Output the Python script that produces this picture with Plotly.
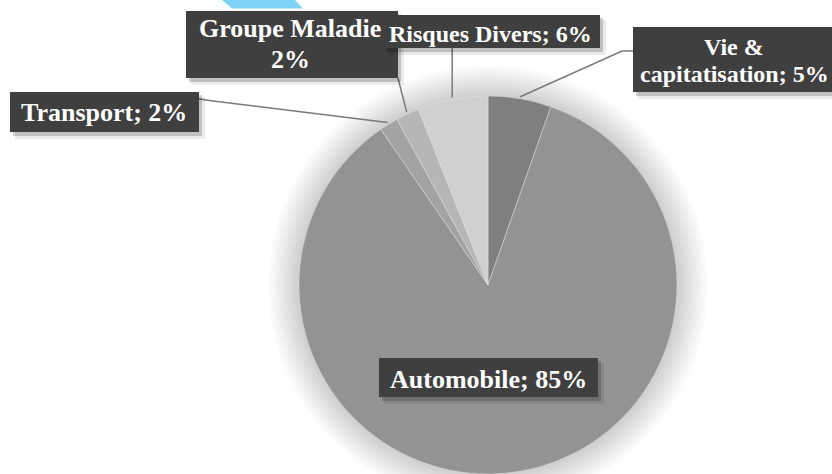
import math
import plotly.graph_objects as go

# ---------------- data ----------------
categories = ["Vie & capitatisation", "Automobile", "Transport", "Groupe Maladie", "Risques Divers"]
values = [5.4, 85.0, 1.6, 2.0, 6.0]
colors = ["#7f7f7f", "#939393", "#a3a3a3", "#b6b6b6", "#d0d0d0"]

# ---------------- layout constants (pixels) ----------------
W, H = 832, 474
cx, cy, R = 488, 285, 189

def px(x):
    return x / W

def py(y):
    return 1 - y / H

# label boxes: x0, y0, x1, y1
boxes = {
    "Vie & capitatisation": (633, 27, 832, 92),
    "Automobile": (379, 358, 598, 397),
    "Transport": (10, 92, 199, 132),
    "Groupe Maladie": (186, 11, 398, 78),
    "Risques Divers": (383, 15, 600, 48),
}
font_sizes = {
    "Vie & capitatisation": 24,
    "Automobile": 26,
    "Transport": 26,
    "Groupe Maladie": 26,
    "Risques Divers": 24,
}
baselines = {
    "Vie & capitatisation": [55, 82],
    "Automobile": [388],
    "Transport": [121.7],
    "Groupe Maladie": [37, 68],
    "Risques Divers": [42],
}
text_cx = {
    "Vie & capitatisation": 734,
    "Automobile": 488,
    "Transport": 104,
    "Groupe Maladie": 290,
    "Risques Divers": 491,
}
leader_pts = {
    "Vie & capitatisation": [(622, 51), (633, 51)],
    "Transport": [(213, 101), (199, 99)],
    "Groupe Maladie": [(398, 78)],
    "Risques Divers": [(None, 48)],
}
draw_order = ["Automobile", "Transport", "Vie & capitatisation", "Groupe Maladie", "Risques Divers"]

total = sum(values)
pcts = {c: round(v / total * 100) for c, v in zip(categories, values)}

def label_lines(name):
    p = pcts[name]
    if name == "Groupe Maladie":
        return [name, f"{p}%"]
    txt = f"{name}; {p}%"
    if "& " in txt:
        return txt.split("& ", 1)[0] + "&", txt.split("& ", 1)[1]
    return [txt]

fig = go.Figure()
fig.add_trace(go.Pie(
    labels=categories,
    values=values,
    sort=False,
    direction="clockwise",
    rotation=0,
    textinfo="none",
    hoverinfo="label+percent",
    marker=dict(colors=colors, line=dict(color="rgba(225,225,225,0.6)", width=0.8)),
    domain=dict(x=[px(cx - R), px(cx + R)], y=[py(cy + R), py(cy - R)]),
    showlegend=False,
))

shapes = []
# soft glow around the pie
for k in range(12):
    rr = R + 2 + k * 2.6
    shapes.append(dict(type="circle", xref="paper", yref="paper",
                       x0=px(cx - rr), x1=px(cx + rr), y0=py(cy + rr), y1=py(cy - rr),
                       fillcolor="rgba(0,0,0,0.014)", line=dict(width=0), layer="below"))

# light blue decorative shape
shapes.append(dict(type="path", xref="paper", yref="paper",
                   path=f"M {px(222)},{py(0)} L {px(295)},{py(0)} L {px(303)},{py(8.5)} L {px(232)},{py(8.5)} Z",
                   fillcolor="#7fd4f6", line=dict(width=0), layer="below"))

# leader lines from slice mid-angles
cum = 0.0
anchors = {}
for c, v in zip(categories, values):
    mid = (cum + v / 2) / total
    th = 2 * math.pi * mid
    anchors[c] = (cx + (R + 2) * math.sin(th), cy - (R + 2) * math.cos(th))
    cum += v

for c, pts in leader_pts.items():
    ax, ay = anchors[c]
    path = f"M {px(ax)},{py(ay)}"
    for (x, y) in pts:
        x = ax if x is None else x
        path += f" L {px(x)},{py(y)}"
    shapes.append(dict(type="path", xref="paper", yref="paper", path=path,
                       line=dict(color="#7a7a7a", width=1.5)))

annotations = []
for c in draw_order:
    x0, y0, x1, y1 = boxes[c]
    # shadow
    shapes.append(dict(type="rect", xref="paper", yref="paper",
                       x0=px(x0 + 5), x1=px(x1 + 6), y0=py(y1 + 7), y1=py(y0 + 5),
                       fillcolor="rgba(0,0,0,0.08)", line=dict(width=0)))
    shapes.append(dict(type="rect", xref="paper", yref="paper",
                       x0=px(x0 + 3), x1=px(x1 + 3), y0=py(y1 + 4), y1=py(y0 + 3),
                       fillcolor="rgba(0,0,0,0.18)", line=dict(width=0)))
    shapes.append(dict(type="rect", xref="paper", yref="paper",
                       x0=px(x0), x1=px(x1), y0=py(y1), y1=py(y0),
                       fillcolor="#3f3f3f", line=dict(width=0)))
    fs = font_sizes[c]
    for line, base in zip(label_lines(c), baselines[c]):
        annotations.append(dict(
            x=px(text_cx[c]), y=py(base - 0.34 * fs), xref="paper", yref="paper",
            text=f"<b>{line}</b>", showarrow=False, xanchor="center", yanchor="middle",
            font=dict(family="Liberation Serif", size=fs, color="white"),
        ))

fig.update_layout(
    width=W, height=H,
    margin=dict(l=0, r=0, t=0, b=0),
    paper_bgcolor="white",
    plot_bgcolor="white",
    shapes=shapes,
    annotations=annotations,
)

fig.write_html("out.html")
